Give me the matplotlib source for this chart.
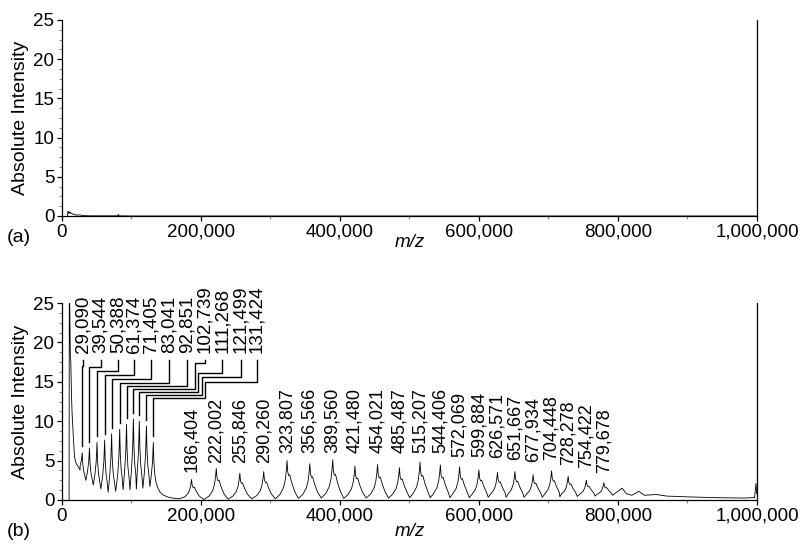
import matplotlib
matplotlib.use("Agg")
import matplotlib.pyplot as plt
from matplotlib.ticker import MultipleLocator, AutoMinorLocator, FuncFormatter

plt.rcParams["font.family"] = ["Liberation Sans", "DejaVu Sans"]
plt.rcParams["font.size"] = 13

# ---- data (m/z, absolute intensity) ----
# panel (a): almost nothing above the baseline
a_mz = [8000, 8500, 9500, 10000, 11000, 12000, 13000, 14000, 16000, 18000,
        20000, 25000, 30000, 40000, 80000, 81000, 82000, 100000, 1000000]
a_int = [0.0, 0.6, 0.3, 0.55, 0.4, 0.5, 0.3, 0.35, 0.2, 0.25,
         0.1, 0.15, 0.05, 0.02, 0.02, 0.2, 0.02, 0.0, 0.0]

# panel (b): low-mass rise before the first labelled peak
early_mz = [10200, 10500, 11000, 12000, 12700, 13500, 14500, 16000, 18000,
            20000, 23500, 26000]
early_int = [0.0, 26.0, 26.0, 18.2, 17.5, 13.8, 11.0, 8.5, 5.5, 4.7, 4.2, 3.8]

# first series of peaks (labelled with leader lines)
group1_mz = [29090, 39544, 50388, 61374, 71405, 83041, 92851, 102739,
             111268, 121499, 131424]
group1_int = [6.0, 6.6, 7.3, 7.6, 8.4, 9.0, 9.6, 10.3, 10.0, 9.4, 7.3]
group1_valley = [2.5, 1.9, 1.4, 1.0, 1.1, 1.3, 1.3, 1.4, 1.5, 1.7]

tail1_mz = [137500, 141000, 146000, 155000, 168000]
tail1_int = [1.6, 1.0, 0.6, 0.3, 0.15]

# second series of peaks (labels right above the peaks)
group2_mz = [186404, 222002, 255846, 290260, 323807, 356566, 389560, 421480,
             454021, 485487, 515207, 544406, 572069, 599884, 626571, 651667,
             677934, 704448, 728278, 754422, 779678]
group2_int = [2.6, 4.0, 3.4, 3.6, 5.0, 4.6, 5.1, 4.3, 4.5, 4.1, 4.8, 4.45,
              4.2, 3.8, 3.5, 3.6, 3.2, 3.7, 3.0, 2.5, 2.2]
group2_valley = [0.05, 0.1, 0.15, 0.15, 0.2, 0.25, 0.2, 0.25, 0.25, 0.3,
                 0.3, 0.3, 0.3, 0.35, 0.35, 0.35, 0.35, 0.4, 0.45, 0.5]

tail2_mz = [792000, 806000, 812000, 820000, 830000, 838000, 855000, 870000,
            900000, 940000, 980000, 996500, 998500, 999500]
tail2_int = [0.6, 1.5, 0.8, 0.6, 1.1, 0.6, 0.7, 0.5, 0.4, 0.3, 0.25, 0.3,
             2.1, 0.8]

# ---- label layout ----
lab1_x = [29600, 55700, 80600, 103600, 127600, 154400, 179400, 205800,
          230700, 257100, 280100]
lab1_elbow = [17.0, 16.9, 16.4, 15.9, 15.35, 14.85, 14.45, 17.4, 16.1, 15.6, 15.0]
lab1_jog = [29600, 55700, 80600, 103600, 127600, 154400, 179400, 191400,
            195700, 201400, 205800]
lab1_elbow2 = [17.0, 16.9, 16.4, 15.9, 15.35, 14.85, 14.45, 14.1, 13.7, 13.3, 12.95]
lab2_y = [3.6, 4.7, 4.7, 4.7, 6.0, 6.0, 6.0, 6.0, 6.0, 6.0, 6.0, 6.0, 5.5,
          5.5, 5.3, 5.1, 4.8, 5.1, 4.4, 4.1, 3.4]

# peak outline templates (offset in m/z, fraction of height above base)
g1_dx = [-3000, -1200, 0, 800, 2000, 3500]
g1_frac = [0.25, 0.55, 1.0, 0.6, 0.35, 0.2]
g2_dx = [-10000, -5000, -2500, -1000, 0, 1000, 2500, 4000, 7000, 11000]
g2_frac = [0.12, 0.3, 0.5, 0.75, 1.0, 0.7, 0.6, 0.62, 0.4, 0.18]


def peak_trace(centers, heights, valleys, left_base, right_base, dx, frac):
    bases = [left_base] + list(valleys) + [right_base]
    xs, ys = [], []
    for i, (c, h) in enumerate(zip(centers, heights)):
        if i > 0:
            xs.append((centers[i - 1] + c) / 2)
            ys.append(bases[i])
        for d, f in zip(dx, frac):
            b = bases[i] if d < 0 else bases[i + 1]
            xs.append(c + d)
            ys.append(b + (h - b) * f)
    return xs, ys


g1x, g1y = peak_trace(group1_mz, group1_int, group1_valley, 3.8, 1.2, g1_dx, g1_frac)
g2x, g2y = peak_trace(group2_mz, group2_int, group2_valley, 0.08, 0.55, g2_dx, g2_frac)
b_mz = early_mz + g1x + tail1_mz + g2x + tail2_mz
b_int = early_int + g1y + tail1_int + g2y + tail2_int

fig = plt.figure(figsize=(8.03, 5.45), dpi=100)
axa = fig.add_axes([62 / 803, 1 - 216 / 545, 695 / 803, 196 / 545])
axb = fig.add_axes([62 / 803, 1 - 500 / 545, 695 / 803, 197 / 545])

comma = FuncFormatter(lambda v, p: f"{int(round(v)):,}")
for ax in (axa, axb):
    ax.set_xlim(0, 1000000)
    ax.set_ylim(0, 25)
    ax.spines["top"].set_visible(False)
    for s in ("left", "bottom", "right"):
        ax.spines[s].set_linewidth(0.9)
    ax.xaxis.set_major_locator(MultipleLocator(200000))
    ax.xaxis.set_minor_locator(AutoMinorLocator(2))
    ax.yaxis.set_major_locator(MultipleLocator(5))
    ax.yaxis.set_minor_locator(AutoMinorLocator(4))
    ax.xaxis.set_major_formatter(comma)
    ax.tick_params(which="major", direction="out", length=3.5, width=0.9,
                   pad=2, labelsize=13.5)
    ax.tick_params(which="minor", direction="out", length=2, width=0.8,
                   color="#888888")
    ax.tick_params(axis="y", which="both", right=False)
    ax.set_ylabel("Absolute Intensity", fontsize=14)
    ax.yaxis.set_label_coords(-0.048, 0.5)

axa.plot(a_mz, a_int, color="black", lw=0.6)
axb.plot(b_mz, b_int, color="black", lw=0.6)

axa.text(0.5, -0.135, "m/z", transform=axa.transAxes, ha="center",
         va="center", style="italic", fontsize=13.5)
axb.text(0.5, -0.158, "m/z", transform=axb.transAxes, ha="center",
         va="center", style="italic", fontsize=13.5)
fig.text(7 / 803, 1 - 238 / 545, "(a)", ha="left", va="center", fontsize=14)
fig.text(7 / 803, 1 - 532 / 545, "(b)", ha="left", va="center", fontsize=14)

# leader-lined labels for the first series
for i, (c, h) in enumerate(zip(group1_mz, group1_int)):
    lx = lab1_x[i]
    px = [lx, lx, lab1_jog[i], lab1_jog[i], c, c]
    py = [17.8, lab1_elbow[i], lab1_elbow[i], lab1_elbow2[i], lab1_elbow2[i], h + 0.8]
    axb.plot(px, py, color="black", lw=1.0, clip_on=False)
    axb.text(lx, 18.6, f"{c:,}", rotation=90, ha="center", va="bottom",
             fontsize=13.5, clip_on=False)

# labels for the second series
for c, y in zip(group2_mz, lab2_y):
    axb.text(c, y, f"{c:,}", rotation=90, ha="center", va="bottom", fontsize=13)

fig.savefig("out.png", dpi=100)
